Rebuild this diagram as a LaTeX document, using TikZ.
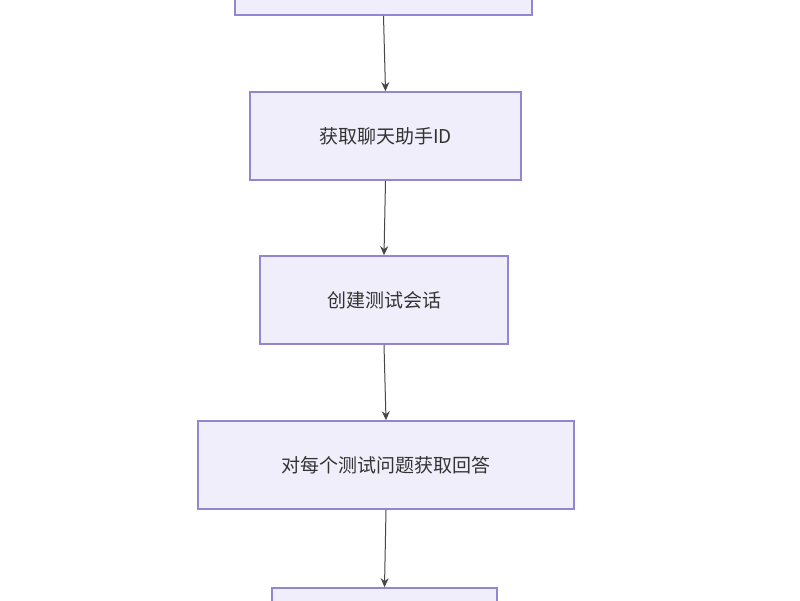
\documentclass[tikz,border=0pt]{standalone}
\usepackage{fontspec}
\newfontfamily\cjk{Noto Sans CJK SC}
\usetikzlibrary{arrows.meta}
\definecolor{boxfill}{HTML}{F1EEFB}
\definecolor{boxline}{HTML}{9485D3}
\definecolor{txt}{HTML}{333333}
\begin{document}
\begin{tikzpicture}[x=1pt,y=-1pt,
  box/.style={draw=boxline,fill=boxfill,line width=1.6pt,text=txt,font=\cjk\fontsize{19}{22}\selectfont},
  arr/.style={draw=txt!90,line width=1pt,-{Stealth[length=9pt,width=8pt]}}]
\useasboundingbox (0,0) rectangle (800,600);
\clip (0,0) rectangle (800,600);
\fill[white] (0,0) rectangle (800,600);
\node[box,minimum width=297pt,minimum height=88pt] (n0) at (383.5,-29) {};
\node[box,minimum width=271pt,minimum height=88pt] (n1) at (385.5,136) {获取聊天助手ID};
\node[box,minimum width=248pt,minimum height=88pt] (n2) at (384,300) {创建测试会话};
\node[box,minimum width=376pt,minimum height=88pt] (n3) at (386,465) {对每个测试问题获取回答};
\node[box,minimum width=225pt,minimum height=88pt] (n4) at (384.5,632) {};
\draw[arr] (n0.south) -- (n1.north);
\draw[arr] (n1.south) -- (n2.north);
\draw[arr] (n2.south) -- (n3.north);
\draw[arr] (n3.south) -- (n4.north);
\end{tikzpicture}
\end{document}
